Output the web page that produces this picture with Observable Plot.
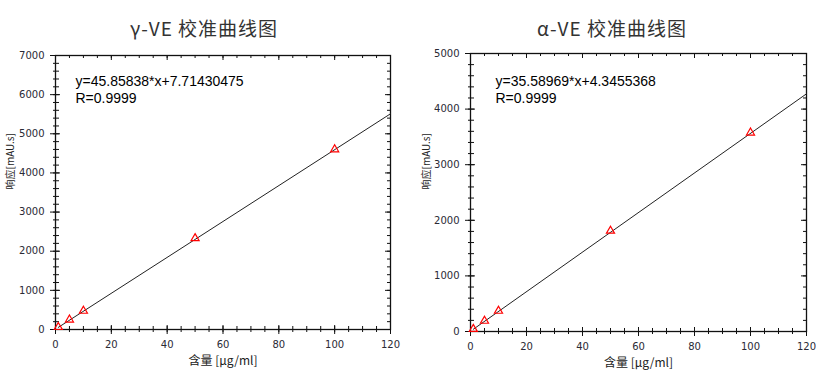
<!DOCTYPE html>
<html><head><meta charset="utf-8">
<script src="https://cdn.jsdelivr.net/npm/d3@7"></script>
<script src="https://cdn.jsdelivr.net/npm/@observablehq/plot@0.6"></script>
<style>
body{margin:0;background:#fff;}
#wrap{display:flex;width:816px;height:373px;}
.panel{width:408px;}
.title{height:40px;box-sizing:border-box;padding-top:17px;line-height:22px;text-align:center;font-family:"Noto Sans CJK SC";font-size:19px;letter-spacing:1px;color:#333;}
</style></head><body><div id="wrap"></div>
<script>
// ---- data ----
const conc = [1, 5, 10, 50, 100];
const gammaArea = [60, 250, 475, 2330, 4600];
const alphaArea = [45, 190, 370, 1810, 3575];
const fitX = [1, 120];
const gammaFitY = [54, 5511];
const alphaFitY = [40, 4275];
const titles = ["γ-VE 校准曲线图", "α-VE 校准曲线图"];
const gammaEq = ["y=45.85838*x+7.71430475", "R=0.9999"];
const alphaEq = ["y=35.58969*x+4.3455368", "R=0.9999"];
const xTicks = [0, 20, 40, 60, 80, 100, 120];
const gammaYTicks = [0, 1000, 2000, 3000, 4000, 5000, 6000, 7000];
const alphaYTicks = [0, 1000, 2000, 3000, 4000, 5000];
const yLabel = "响应[mAU.s]";
const xLabel = "含量 [μg/ml]";

const xMinor = d3.range(0, 121, 5);

function panel(title, xs, ys, fx, fy, eq, yTicks, yMax, m) {
  const W = 408, H = 333;
  const pw = W - m.l - m.r, ph = H - m.t - m.b;
  const yMinor = d3.range(0, yMax + 1, 200);
  const pts = xs.map((x, i) => ({x, y: ys[i]}));
  const fit = fx.map((x, i) => ({x, y: fy[i]}));
  const div = document.createElement("div");
  div.className = "panel";
  const t = document.createElement("div");
  t.className = "title";
  t.textContent = title;
  div.appendChild(t);
  const k = "#111";
  div.appendChild(Plot.plot({
    width: W, height: H, marginLeft: m.l, marginRight: m.r, marginTop: m.t, marginBottom: m.b,
    style: {fontFamily: "DejaVu Sans", fontSize: "10px", color: "#2a2a35", background: "#fff"},
    x: {domain: [0, 120]},
    y: {domain: [0, yMax]},
    marks: [
      Plot.axisX({ticks: xTicks, tickSize: 0, tickPadding: 11, tickFormat: d => String(d), label: null}),
      Plot.axisY({ticks: yTicks, tickSize: 0, tickPadding: 11, tickFormat: d => String(d), label: null}),
      Plot.tickY(yMinor, {y: d => d, insetLeft: -2, insetRight: pw - 4, stroke: k}),
      Plot.tickY(yTicks, {y: d => d, insetLeft: -5, insetRight: pw - 5, stroke: k}),
      Plot.tickY(yMinor, {y: d => d, insetLeft: pw - 3, insetRight: 0, stroke: k}),
      Plot.tickY(yTicks, {y: d => d, insetLeft: pw - 5, insetRight: 0, stroke: k}),
      Plot.tickX(xMinor, {x: d => d, insetTop: ph - 3, insetBottom: -3, stroke: k}),
      Plot.tickX(xTicks, {x: d => d, insetTop: ph - 4, insetBottom: -5, stroke: k}),
      Plot.tickX(xMinor, {x: d => d, insetTop: 0, insetBottom: ph - 3, stroke: k}),
      Plot.tickX(xTicks, {x: d => d, insetTop: 0, insetBottom: ph - 5, stroke: k}),
      Plot.frame({stroke: k, strokeWidth: 1.3}),
      Plot.line(fit, {x: "x", y: "y", stroke: "#222", strokeWidth: 1}),
      Plot.dot(pts, {x: "x", y: "y", symbol: "triangle", r: 3, stroke: "red", fill: "none", strokeWidth: 1.2}),
      Plot.text([eq.join("\n")], {frameAnchor: "top-left", textAnchor: "start", lineAnchor: "middle",
        dx: m.ex, dy: m.ey, fontSize: 14, fontFamily: "Liberation Sans", lineHeight: 17 / 14, fill: "#000"}),
      Plot.text([yLabel], {frameAnchor: "left", rotate: -90, dx: m.yl, dy: -3, fontFamily: "Noto Sans CJK SC", fontSize: 10, fill: "#222"}),
      Plot.text([xLabel], {frameAnchor: "bottom", dy: 35, fontFamily: "Noto Sans CJK SC", fontSize: 12, fill: "#222"})
    ]
  }));
  return div;
}

const wrap = document.getElementById("wrap");
wrap.appendChild(panel(titles[0], conc, gammaArea, fitX, gammaFitY, gammaEq, gammaYTicks, 7000,
  {l: 55, r: 18, t: 15, b: 44, ex: 20, ey: 33.5, yl: -45}));
wrap.appendChild(panel(titles[1], conc, alphaArea, fitX, alphaFitY, alphaEq, alphaYTicks, 5000,
  {l: 62, r: 10, t: 13, b: 42, ex: 25, ey: 35.5, yl: -44}));
</script></body></html>
